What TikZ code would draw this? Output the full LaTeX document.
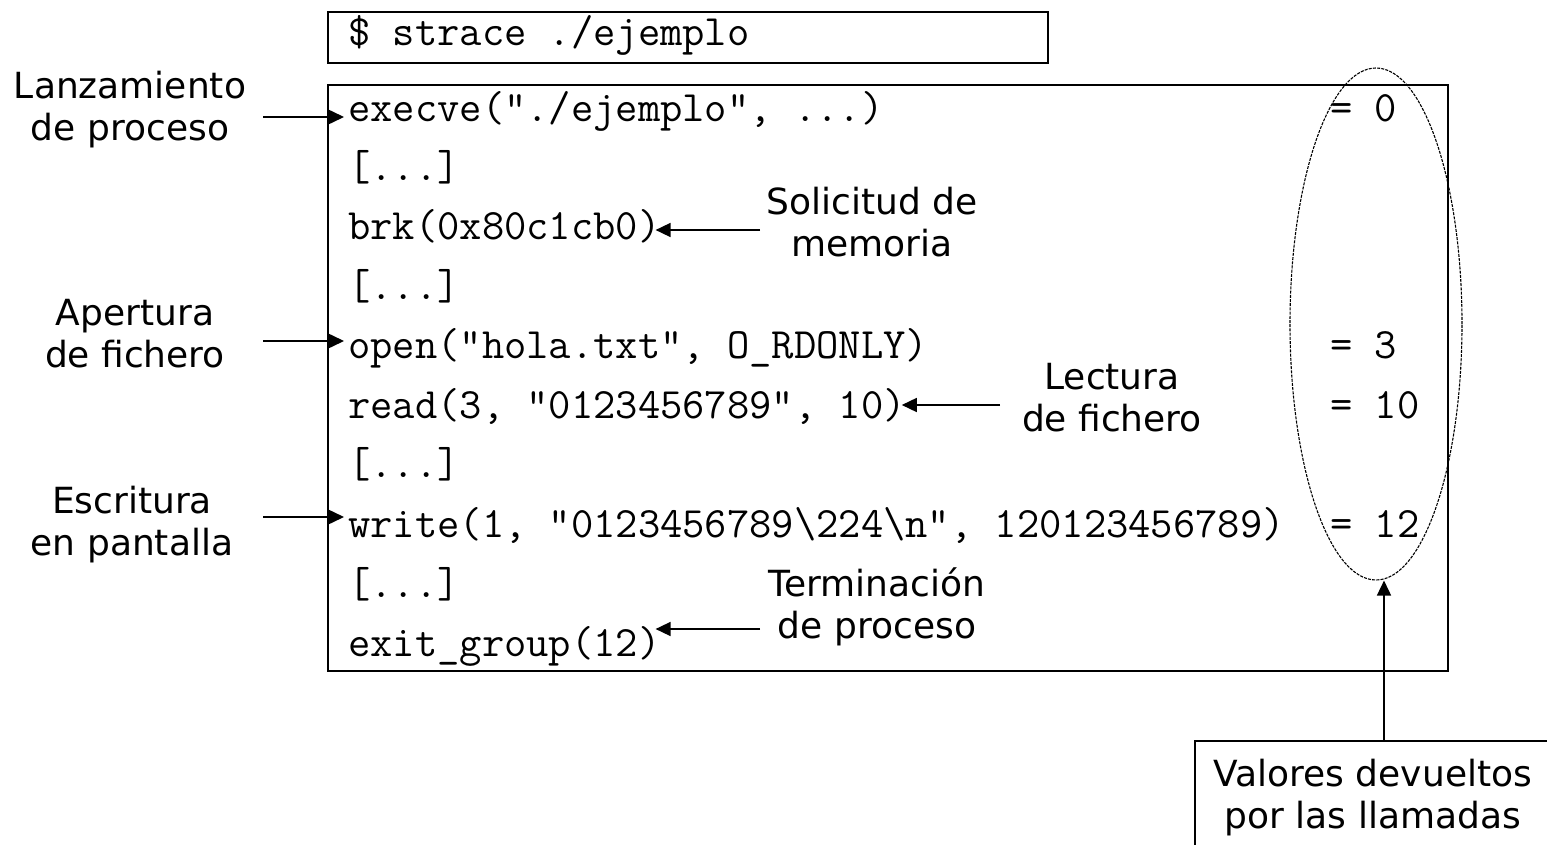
\documentclass[tikz,border=0pt]{standalone}
\usepackage{fontspec}
\usetikzlibrary{arrows.meta,calc,shapes.geometric}
\newfontfamily\lblfont{DejaVu Sans}
\tikzset{
  arr/.style={line width=1.6pt,-{Triangle[length=15pt,width=14pt]}},
  frame/.style={draw,line width=1.6pt},
  code/.style={anchor=base west,inner sep=0pt,font=\ttfamily\fontsize{43.3}{45}\selectfont},
  lbl/.style={align=center,inner sep=0pt,font=\lblfont\fontsize{36}{42}\selectfont},
}
\begin{document}
\begin{tikzpicture}[x=1pt,y=-1pt]
\useasboundingbox (0,0) rectangle (1547,845);
\clip (0,0) rectangle (1547,845);

% command line and trace output frames
\draw[frame] (328,12) rectangle (1048,63);
\draw[frame] (328,85) rectangle (1448,671);
\node[code] (cmd) at (348,46) {\$ strace ./ejemplo};

% system calls
\node[code] (execve) at (348,122) {execve("./ejemplo", ...)};
\node[code] (d1)     at (348,181) {[...]};
\node[code] (brk)    at (348,240) {brk(0x80c1cb0)};
\node[code] (d2)     at (348,299) {[...]};
\node[code] (open)   at (348,358) {open("hola.txt", O\_RDONLY)};
\node[code] (read)   at (348,418) {read(3, "0123456789", 10)};
\node[code] (d3)     at (348,477) {[...]};
\node[code] (write)  at (348,537) {write(1, "0123456789\textbackslash 224\textbackslash n", 120123456789)};
\node[code] (d4)     at (348,597) {[...]};
\node[code] (exit)   at (348,656) {exit\_group(12)};

% return values
\node[code] (r0)  at (1330,122) {= 0};
\node[code] (r3)  at (1330,358) {= 3};
\node[code] (r10) at (1330,418) {= 10};
\node[code] (r12) at (1330,537) {= 12};
\node[draw,ellipse,minimum width=172pt,minimum height=512pt,inner sep=0pt,
      line width=1.1pt,dash pattern=on 3pt off 1.2pt] (ret) at (1376,324) {};

% annotations on the left
\node[lbl] (lanz) at (130,110) {Lanzamiento\\de proceso};
\node[lbl] (aper) at (135,334) {Apertura\\de fichero};
\node[lbl] (escr) at (132,525) {Escritura\\en pantalla};
\coordinate (tl1) at (263,117);
\coordinate (tl2) at (263,341);
\coordinate (tl3) at (263,517);
\draw[arr,shorten >=4pt] (tl1) -- (tl1 -| execve.west);
\draw[arr,shorten >=4pt] (tl2) -- (tl2 -| open.west);
\draw[arr,shorten >=4pt] (tl3) -- (tl3 -| write.west);

% annotations on the right of the calls
\node[lbl] (soli) at (872,222) {Solicitud de\\memoria};
\node[lbl] (lect) at (1112,398) {Lectura\\de fichero};
\node[lbl] (term) at (877,607) {Terminación\\de proceso};
\coordinate (tr1) at (760,230);
\coordinate (tr2) at (1000,405);
\coordinate (tr3) at (760,629);
\draw[arr,shorten >=-5pt] (tr1) -- (tr1 -| brk.east);
\draw[arr,shorten >=-4pt] (tr2) -- (tr2 -| read.east);
\draw[arr,shorten >=-5pt] (tr3) -- (tr3 -| exit.east);

% return values legend
\node[lbl,draw,line width=1.6pt,minimum width=356pt,minimum height=114pt,
      anchor=north west] (valores) at (1194,740) {Valores devueltos\\por las llamadas};
\coordinate (tx) at (1384,0);
\draw[arr] (valores.north -| tx) -- (ret.south -| tx);
\end{tikzpicture}
\end{document}
